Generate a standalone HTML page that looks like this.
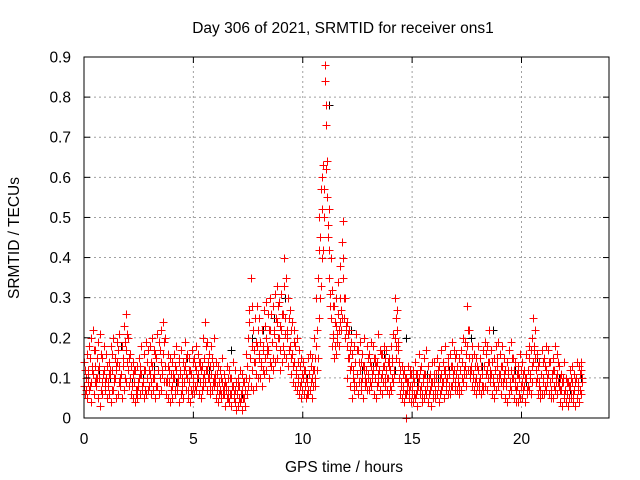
<!DOCTYPE html>
<html><head><meta charset="utf-8"><style>
body{margin:0;background:#fff;}
svg{display:block;font-family:"Liberation Sans",sans-serif;}
</style></head><body>
<svg id="chart" width="640" height="480" xmlns="http://www.w3.org/2000/svg">
<rect width="640" height="480" fill="#fff"/>
<text x="343" y="33" font-size="15.5" text-anchor="middle">Day 306 of 2021, SRMTID for receiver ons1</text>
<text x="344" y="472" font-size="15.5" text-anchor="middle">GPS time / hours</text>
<text transform="translate(19,238) rotate(-90)" font-size="15.5" text-anchor="middle">SRMTID / TECUs</text>
<g id="grid"></g><g id="marks" shape-rendering="crispEdges"></g><g id="axes"></g>
</svg>
<script>
const xTicks=[0,5,10,15,20];
const yTicks=[0,0.1,0.2,0.3,0.4,0.5,0.6,0.7,0.8,0.9];
const yTickLabels=["0","0.1","0.2","0.3","0.4","0.5","0.6","0.7","0.8","0.9"];
const tStep=0.1;
const r1=[.08,.10,.12,.09,.11,.13,.15,.10,.09,.12,.10,.09,.11,.12,.10,.14,.13,.11,.15,.17,.12,.10,.08,.09,.07,.10,.11,.09,.12,.10,.11,.13,.10,.15,.12,.14,.16,.13,.10,.09,.08,.10,.12,.09,.11,.10,.13,.10,.09,.11,.10,.12,.11,.09,.13,.15,.12,.10,.11,.13,.09,.08,.07,.09,.06,.08,.07,.06,.08,.07,.06,.08,.07,.05,.10,.20,.15,.12,.14,.18,.16,.14,.18,.20,.17,.22,.19,.21,.24,.20,.22,.26,.25,.21,.18,.16,.14,.12,.10,.09,.10,.08,.09,.11,.10,.12,.18,.35,.45,.60,.84,.55,.35,.25,.20,.23,.26,.30,.44,.25,.18,.15,.13,.12,.14,.11,.12,.10,.13,.12,.11,.13,.12,.10,.14,.12,.11,.13,.12,.10,.12,.14,.20,.22,.10,.09,.08,.00,.09,.08,.08,.09,.07,.10,.08,.09,.11,.08,.07,.09,.09,.10,.08,.11,.09,.12,.10,.11,.13,.12,.11,.10,.12,.14,.13,.18,.15,.12,.11,.10,.12,.10,.11,.13,.12,.14,.11,.10,.12,.13,.11,.13,.10,.09,.11,.12,.10,.09,.08,.10,.09,.08,.10,.12,.11,.20,.15,.10,.09,.11,.10,.12,.11,.09,.10,.12,.11,.08,.07,.09,.07,.06,.08,.09,.07,.10,.09,.12];
const r2=[.14,.16,.18,.20,.22,.17,.19,.21,.15,.18,.16,.14,.18,.20,.15,.19,.21,.18,.23,.26,.20,.16,.14,.12,.13,.15,.18,.16,.19,.17,.18,.20,.17,.21,.19,.22,.24,.20,.16,.15,.14,.16,.18,.15,.17,.14,.19,.16,.15,.17,.15,.18,.16,.14,.20,.24,.19,.16,.18,.20,.14,.13,.12,.15,.11,.13,.12,.10,.14,.12,.10,.12,.11,.09,.16,.27,.35,.22,.25,.28,.25,.22,.27,.29,.26,.30,.28,.31,.33,.29,.31,.40,.35,.30,.27,.24,.22,.20,.17,.15,.14,.12,.15,.16,.15,.20,.30,.50,.57,.63,.88,.64,.42,.32,.28,.30,.34,.38,.49,.30,.24,.22,.19,.18,.21,.17,.19,.16,.20,.18,.16,.19,.18,.15,.21,.17,.16,.18,.17,.15,.18,.21,.30,.27,.14,.13,.12,.10,.13,.12,.12,.14,.11,.16,.13,.15,.17,.13,.11,.14,.14,.15,.13,.17,.14,.18,.15,.16,.19,.17,.16,.15,.17,.20,.19,.28,.22,.18,.16,.15,.18,.15,.17,.19,.18,.22,.17,.15,.18,.19,.16,.18,.15,.14,.17,.19,.15,.14,.13,.16,.14,.12,.16,.18,.17,.25,.22,.16,.14,.17,.15,.18,.17,.14,.15,.18,.16,.13,.11,.14,.10,.09,.12,.13,.11,.14,.13,.14];
const r3=[.06,.05,.07,.04,.06,.08,.05,.03,.06,.07,.05,.06,.04,.07,.05,.06,.08,.05,.07,.09,.08,.06,.05,.04,.05,.06,.07,.05,.06,.07,.06,.07,.05,.08,.06,.07,.09,.06,.05,.04,.05,.06,.07,.04,.06,.05,.07,.05,.04,.06,.06,.07,.06,.05,.08,.09,.07,.06,.07,.08,.05,.04,.05,.06,.03,.05,.04,.03,.05,.02,.03,.04,.02,.03,.06,.10,.08,.07,.08,.10,.10,.08,.11,.12,.10,.13,.12,.14,.15,.12,.14,.16,.15,.13,.11,.09,.08,.07,.06,.05,.06,.05,.06,.07,.05,.08,.12,.25,.33,.42,.73,.48,.28,.18,.15,.16,.18,.22,.35,.20,.10,.08,.05,.07,.08,.06,.07,.05,.08,.07,.07,.08,.06,.05,.09,.07,.06,.08,.07,.06,.07,.09,.15,.17,.06,.05,.04,.06,.05,.04,.04,.05,.03,.06,.04,.05,.06,.04,.03,.05,.05,.06,.04,.07,.05,.07,.06,.06,.08,.07,.07,.06,.07,.09,.08,.12,.10,.08,.07,.06,.07,.06,.07,.08,.07,.09,.06,.05,.07,.08,.06,.08,.05,.04,.06,.07,.05,.04,.04,.05,.05,.04,.06,.07,.06,.14,.09,.06,.05,.06,.06,.07,.06,.05,.05,.07,.06,.04,.03,.05,.04,.03,.05,.04,.03,.05,.04,.06];
const r4=[.12,.09,.15,.13,.17,.10,.12,.16,.11,.08,.13,.11,.16,.09,.13,.17,.10,.15,.19,.21,.15,.13,.11,.06,.09,.13,.08,.12,.14,.08,.14,.10,.16,.12,.17,.11,.19,.09,.13,.11,.11,.13,.09,.14,.08,.12,.15,.07,.12,.14,.13,.09,.14,.12,.10,.18,.14,.08,.15,.10,.11,.06,.10,.07,.09,.05,.10,.08,.06,.09,.08,.05,.09,.07,.13,.24,.28,.17,.19,.22,.19,.12,.23,.16,.22,.26,.15,.25,.28,.23,.26,.33,.20,.25,.22,.13,.18,.09,.13,.11,.12,.10,.07,.13,.08,.15,.22,.42,.52,.57,.78,.45,.31,.21,.24,.19,.22,.27,.40,.22,.21,.12,.16,.09,.17,.14,.09,.13,.10,.15,.14,.10,.15,.13,.11,.16,.09,.15,.10,.13,.15,.11,.25,.19,.12,.07,.10,.09,.07,.11,.10,.06,.09,.12,.06,.11,.08,.10,.09,.06,.07,.12,.10,.08,.12,.09,.13,.08,.10,.15,.13,.08,.14,.11,.16,.22,.12,.15,.09,.13,.09,.13,.08,.16,.10,.12,.14,.08,.15,.10,.13,.09,.12,.11,.08,.15,.12,.07,.11,.08,.11,.10,.07,.15,.09,.17,.12,.13,.07,.14,.13,.09,.14,.07,.12,.09,.14,.10,.09,.06,.09,.05,.10,.06,.09,.07,.11,.10];
const r5=[.07,.11,.08,.12,.09,.10,.13,.07,.11,.09,.08,.12,.07,.10,.12,.09,.11,.13,.10,.14,.10,.08,.12,.07,.08,.11,.09,.07,.10,.12,.09,.11,.08,.12,.10,.12,.13,.09,.12,.07,.10,.07,.10,.12,.07,.09,.11,.12,.07,.08,.08,.10,.13,.07,.11,.12,.10,.13,.09,.11,.07,.09,.06,.08,.07,.10,.06,.08,.04,.06,.05,.06,.05,.07,.08,.15,.18,.14,.11,.15,.13,.17,.15,.18,.14,.19,.22,.18,.20,.17,.18,.21,.22,.17,.15,.19,.11,.14,.08,.07,.08,.06,.11,.09,.12,.10,.15,.30,.40,.50,.62,.52,.40,.28,.18,.21,.24,.25,.30,.23,.15,.17,.10,.14,.11,.09,.14,.12,.09,.10,.09,.11,.14,.08,.12,.10,.13,.10,.14,.08,.10,.12,.18,.14,.08,.11,.06,.07,.11,.06,.06,.11,.08,.07,.10,.07,.09,.06,.08,.11,.11,.08,.06,.09,.11,.10,.08,.13,.11,.09,.09,.12,.10,.12,.11,.15,.13,.10,.13,.08,.10,.08,.13,.11,.14,.11,.09,.12,.10,.11,.09,.11,.08,.12,.09,.10,.08,.11,.06,.12,.07,.10,.08,.10,.13,.18,.12,.08,.11,.09,.08,.10,.09,.11,.08,.10,.09,.07,.10,.07,.06,.08,.06,.07,.10,.08,.07,.09];
const kStep=0.5;
const blackVals=[.09,.12,.10,.18,.09,.10,.13,.20,.09,.15,.10,.12,.07,.17,.06,.20,.22,.25,.30,.12,.10,.15,.78,.30,.22,.12,.13,.16,.12,.20,.09,.11,.10,.12,.12,.20,.13,.22,.10,.12,.09,.15,.11,.10,.07,.10];
const X0=84,X1=609,Y0=418,Y1=57,XMAX=24,YMAX=0.9;
const xs=v=>X0+(X1-X0)*v/XMAX, ys=v=>Y0-(Y0-Y1)*v/YMAX;
const NS="http://www.w3.org/2000/svg";
function mk(tag,parent,attrs){const e=document.createElementNS(NS,tag);for(const k in attrs)e.setAttribute(k,attrs[k]);parent.appendChild(e);return e;}
const grid=document.getElementById('grid'),axes=document.getElementById('axes'),marks=document.getElementById('marks');
yTicks.forEach((v,i)=>{const y=ys(v);
 if(i>0&&i<yTicks.length-1){const g=mk('line',grid,{x1:X0,x2:X1,y1:y,y2:y,stroke:'#a0a0a0','stroke-dasharray':'2,3','stroke-width':1});
 
 }
 const t=mk('line',axes,{x1:X0,x2:X0+6,y1:y,y2:y,stroke:'#000'});
 
 
 const t2=mk('line',axes,{x1:X1-6,x2:X1,y1:y,y2:y,stroke:'#000'});
 
 
 const l=mk('text',axes,{x:X0-13,y:y+5.5,'font-size':15.5,'text-anchor':'end'});l.textContent=yTickLabels[i];
 
 });
xTicks.forEach(v=>{const x=xs(v);
 if(v>0){const g=mk('line',grid,{x1:x,x2:x,y1:Y0,y2:Y1,stroke:'#a0a0a0','stroke-dasharray':'2,3','stroke-width':1});
 
 }
 const t=mk('line',axes,{x1:x,x2:x,y1:Y0,y2:Y0-6,stroke:'#000'});
 
 
 const t2=mk('line',axes,{x1:x,x2:x,y1:Y1,y2:Y1+6,stroke:'#000'});
 
 
 const l=mk('text',axes,{x:x,y:Y0+26,'font-size':15.5,'text-anchor':'middle'});l.textContent=String(v);
 
 });
const fr=mk('rect',axes,{x:X0,y:Y1,width:X1-X0,height:Y0-Y1,fill:'none',stroke:'#000'});


function plus(x,y,c,name){x=Math.round(x)+0.5;y=Math.round(y)+0.5;const p=mk('path',marks,{d:`M${x-4},${y}h8M${x},${y-4}v8`,stroke:c,'stroke-width':1.2,fill:'none'});
 
 }
blackVals.forEach((v,i)=>plus(xs(i*kStep+0.2),ys(v),'#000','black-point'));
[r1,r2,r3,r4,r5].forEach((arr,si)=>arr.forEach((v,i)=>plus(xs(i*tStep+si*0.02),ys(v),'#ff0000','srmtid-point')));
</script>
</body></html>
